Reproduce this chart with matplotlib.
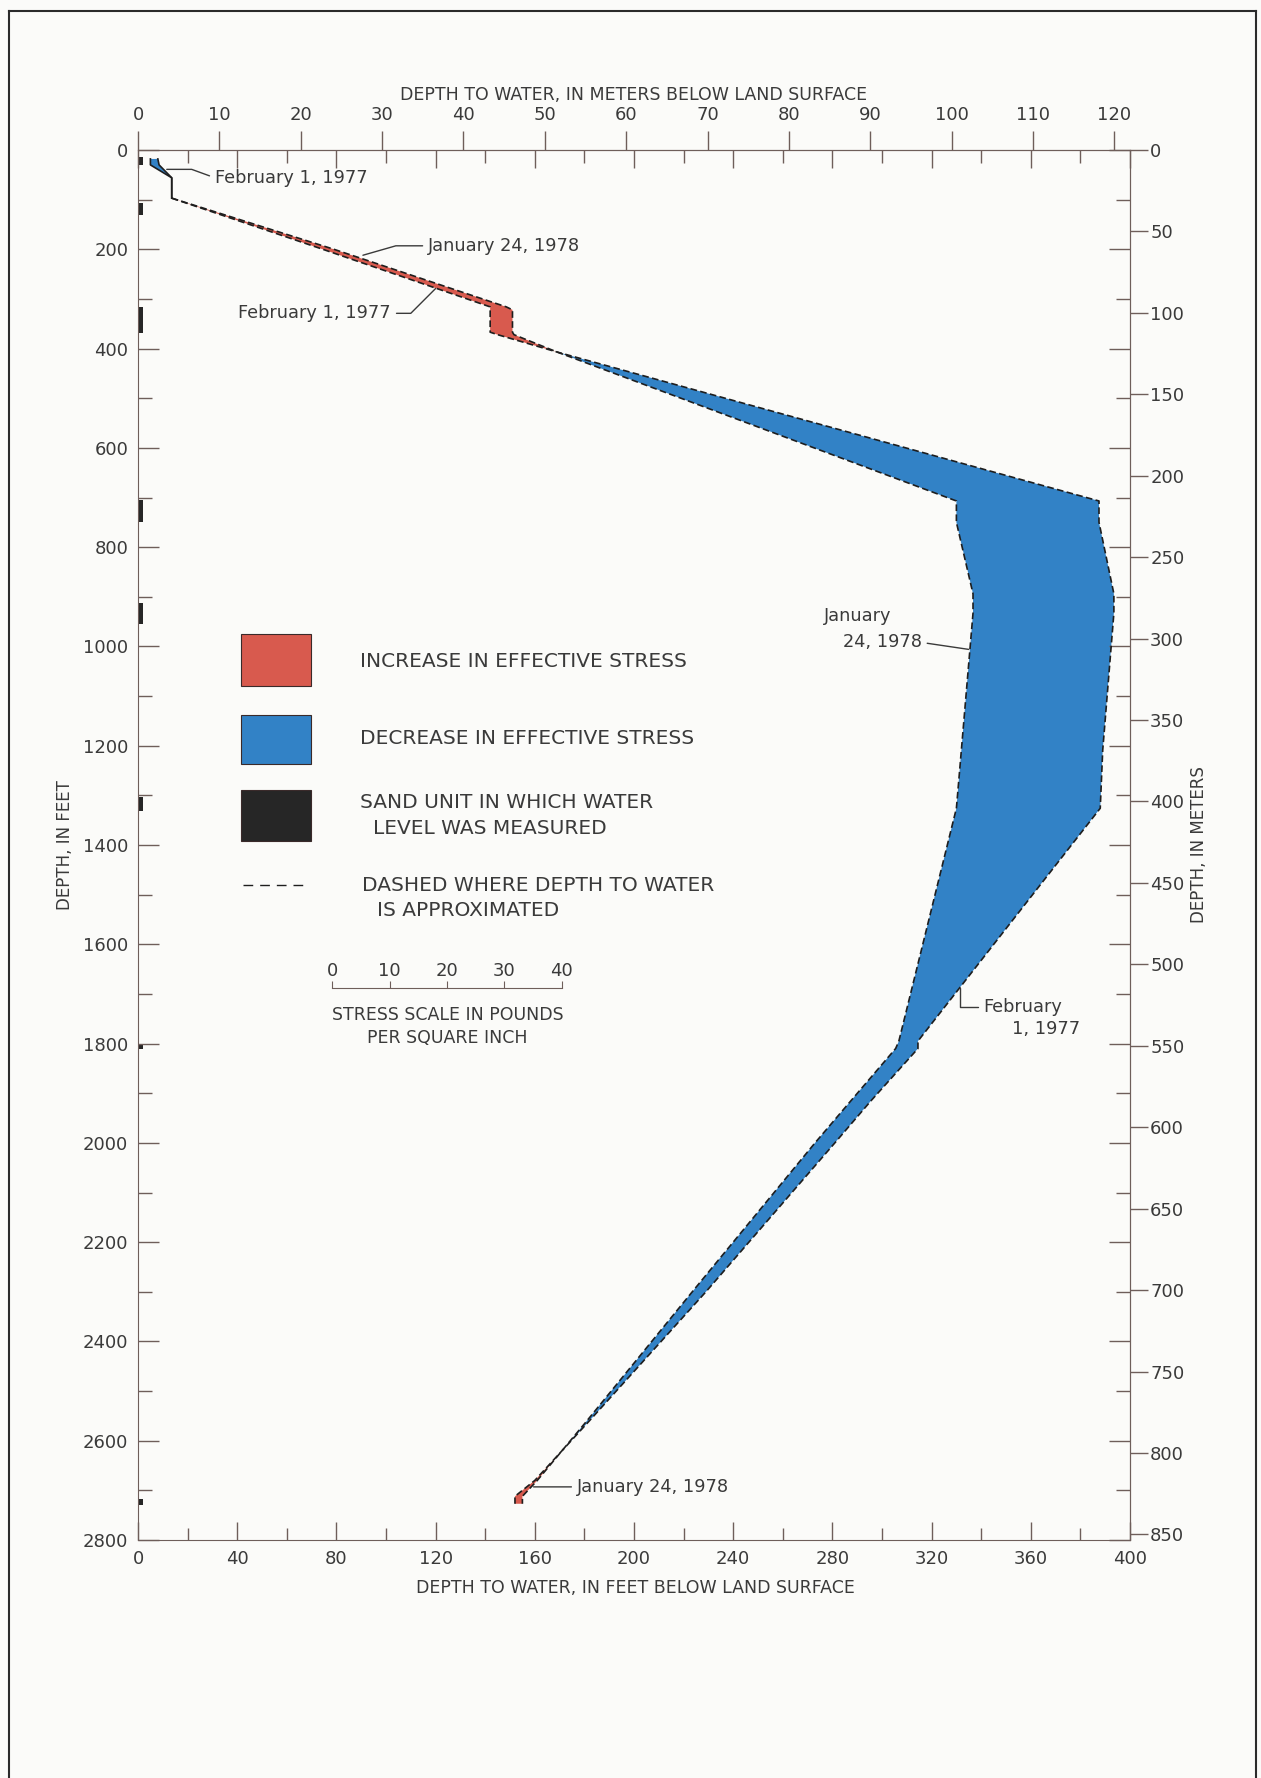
import numpy as np
import matplotlib.pyplot as plt
from matplotlib.patches import Rectangle
from matplotlib.lines import Line2D
from matplotlib.ticker import MultipleLocator

# depth below land surface, in feet (shared by both profiles)
depth_ft = [18, 30, 56, 97, 200, 316, 322, 367, 372, 407, 707, 750, 894, 933,
            1209, 1326, 1795, 1810, 1915, 2000, 2300, 2560, 2620, 2680, 2712, 2727]
# depth to water, in feet below land surface
water_feb1977 = [8, 8.5, 13.6, 13.6, 74.5, 142, 142, 142, 145, 169, 387.5, 387.5, 393.5, 393.5,
                 389, 388, 314.5, 314.5, 295.6, 281, 229, 182, 171, 160, 152, 152]
water_jan1978 = [5, 5, 13.6, 13.6, 79, 148.5, 151, 151, 151.6, 169, 330, 330, 336.7, 336.7,
                 332, 330, 306.8, 305.5, 287.5, 273, 223.5, 181, 171, 161, 155, 155]

# sand units in which water level was measured (top / bottom, ft)
sand_top = [15, 107, 316, 705, 913, 1304, 1800, 2717]
sand_bottom = [30, 130, 369, 750, 955, 1331, 1810, 2730]

ft_ticks = list(range(0, 401, 40))
depth_ticks = list(range(0, 2801, 200))
m_ticks_top = list(range(0, 121, 10))
m_ticks_right = list(range(0, 851, 50))
stress_ticks = [0, 10, 20, 30, 40]

red = '#D85A4E'
blue = '#3282C6'
sand_c = '#262626'
ink = '#1e1e1e'
txt = '#3a3a3a'
spine_c = '#6e5e5a'
bg = '#fbfbf9'

W, H = 1261, 1778


def fx(x):
    return x / W


def fy(y):
    return 1 - y / H


fig = plt.figure(figsize=(W / 100, H / 100), dpi=100, facecolor=bg)
ax = fig.add_axes([fx(138), fy(1540), (1130 - 138) / W, (1540 - 150) / H])
ax.set_facecolor(bg)

d = np.array(depth_ft)
a = np.array(water_feb1977)
b = np.array(water_jan1978)

# stress change between the two profiles
ax.fill_betweenx(d, a, b, where=b >= a, interpolate=True, color=red, lw=0)
ax.fill_betweenx(d, a, b, where=a >= b, interpolate=True, color=blue, lw=0)

top = d <= 97
rest = d >= 97
dash = (0, (4, 2))
for w in (a, b):
    ax.plot(w[top], d[top], color=ink, lw=1.2)
    ax.plot(w[rest], d[rest], color=ink, lw=1.2, ls=dash)

ax.barh(sand_top, 2.0, height=np.subtract(sand_bottom, sand_top), left=0,
        align='edge', color=sand_c)

ax.set_xlim(0, 400)
ax.set_ylim(2800, 0)
ax.set_xticks(ft_ticks)
ax.set_yticks(depth_ticks)
ax.xaxis.set_minor_locator(MultipleLocator(20))
ax.yaxis.set_minor_locator(MultipleLocator(100))
ax.tick_params(which='both', direction='in', top=True, right=True,
               labeltop=False, labelright=False, color=spine_c, width=1,
               labelsize=13, labelcolor=txt, pad=7)
ax.tick_params(axis='x', which='major', length=13)
ax.tick_params(axis='x', which='minor', length=9)
ax.tick_params(axis='y', which='major', length=15)
ax.tick_params(axis='y', which='minor', length=10)
for s in ax.spines.values():
    s.set_color(spine_c)

sx = ax.secondary_xaxis('top', functions=(lambda f: f * 0.3048, lambda m: m / 0.3048))
sx.set_xticks(m_ticks_top)
sx.tick_params(direction='out', length=14, pad=5, labelsize=13, labelcolor=txt,
               color=spine_c, width=1)
sy = ax.secondary_yaxis('right', functions=(lambda f: f * 0.3048, lambda m: m / 0.3048))
sy.set_yticks(m_ticks_right)
sy.tick_params(direction='out', length=13, pad=1.5, labelsize=13, labelcolor=txt,
               color=spine_c, width=1)
for sa in (sx, sy):
    for s in sa.spines.values():
        s.set_color(spine_c)

# axis titles
fig.text(fx(634), fy(95), 'DEPTH TO WATER, IN METERS BELOW LAND SURFACE',
         ha='center', va='center', fontsize=12.5, color=txt)
fig.text(fx(635), fy(1588), 'DEPTH TO WATER, IN FEET BELOW LAND SURFACE',
         ha='center', va='center', fontsize=12.5, color=txt)
fig.text(fx(65), fy(845), 'DEPTH, IN FEET', rotation=90,
         ha='center', va='center', fontsize=12, color=txt)
fig.text(fx(1199), fy(845), 'DEPTH, IN METERS', rotation=90,
         ha='center', va='center', fontsize=12, color=txt)

# curve labels
def lead(text, xy, xytext, ha, conn='arc3', rel=(0, 0.5)):
    ax.annotate(text, xy=xy, xytext=xytext, ha=ha, va='center', fontsize=12.8,
                color=txt,
                arrowprops=dict(arrowstyle='-', color=txt, lw=1, shrinkA=2,
                                shrinkB=0, relpos=rel, connectionstyle=conn))


lead('February 1, 1977', (11.6, 39), (31, 56), 'left', 'angle,angleA=160,angleB=0')
lead('January 24, 1978', (90.7, 212), (117, 193), 'left', 'angle,angleA=0,angleB=16')
lead('February 1, 1977', (120, 279), (102, 329), 'right', 'angle,angleA=0,angleB=45',
     rel=(1, 0.5))
ax.text(290, 939, 'January', ha='center', va='center', fontsize=12.8, color=txt)
lead('24, 1978', (335, 1006), (316, 992), 'right', rel=(1, 0.5))
lead('February', (331.5, 1688), (341, 1726), 'left', 'angle,angleA=180,angleB=90')
ax.text(380, 1770, '1, 1977', ha='right', va='center', fontsize=12.8, color=txt)
lead('January 24, 1978', (159.5, 2693), (177, 2693), 'left')

# explanation
boxes = [(634, 685.7, red), (715, 764, blue), (790, 840.7, sand_c)]
for y0, y1, c in boxes:
    fig.add_artist(Rectangle((fx(240.7), fy(y1)), (310.7 - 240.7) / W, (y1 - y0) / H,
                             transform=fig.transFigure, facecolor=c,
                             edgecolor='#3a2a2a', lw=0.8))
fig.add_artist(Line2D([fx(243), fx(303)], [fy(885), fy(885)], transform=fig.transFigure,
                      color=ink, lw=1.0, ls=(0, (7, 5))))
leg_text = [(360, 661.7, 'INCREASE IN EFFECTIVE STRESS'),
            (360, 738, 'DECREASE IN EFFECTIVE STRESS'),
            (360, 803, 'SAND UNIT IN WHICH WATER'),
            (373, 828, 'LEVEL WAS MEASURED'),
            (362, 885, 'DASHED WHERE DEPTH TO WATER'),
            (377, 910, 'IS APPROXIMATED')]
for x, y, s in leg_text:
    fig.text(fx(x), fy(y), s, ha='left', va='center', fontsize=14.5, color=txt)

# stress scale bar
sc = fig.add_axes([fx(332.3), fy(988.3), (561.7 - 332.3) / W, 0.0001])
sc.set_xlim(0, 40)
sc.set_xticks(stress_ticks)
sc.set_yticks([])
for k in ('left', 'right', 'top'):
    sc.spines[k].set_visible(False)
sc.spines['bottom'].set_color(spine_c)
sc.patch.set_alpha(0)
sc.tick_params(axis='x', direction='in', length=5, bottom=True, top=False,
               labelbottom=False, labeltop=True, pad=6, labelsize=13,
               labelcolor=txt, color=spine_c)
fig.text(fx(448), fy(1015), 'STRESS SCALE IN POUNDS', ha='center', va='center',
         fontsize=12.5, color=txt)
fig.text(fx(447), fy(1038), 'PER SQUARE INCH', ha='center', va='center',
         fontsize=12.5, color=txt)

# page frame
for xs, ys in (([9, 9], [11, 1778]), ([9, 1256], [11, 11]), ([1256, 1256], [11, 1778])):
    fig.add_artist(Line2D([fx(v) for v in xs], [fy(v) for v in ys],
                          transform=fig.transFigure, color='#2b2b2b', lw=1.5))

fig.savefig('out.png', dpi=100, facecolor=bg)
plt.close(fig)
